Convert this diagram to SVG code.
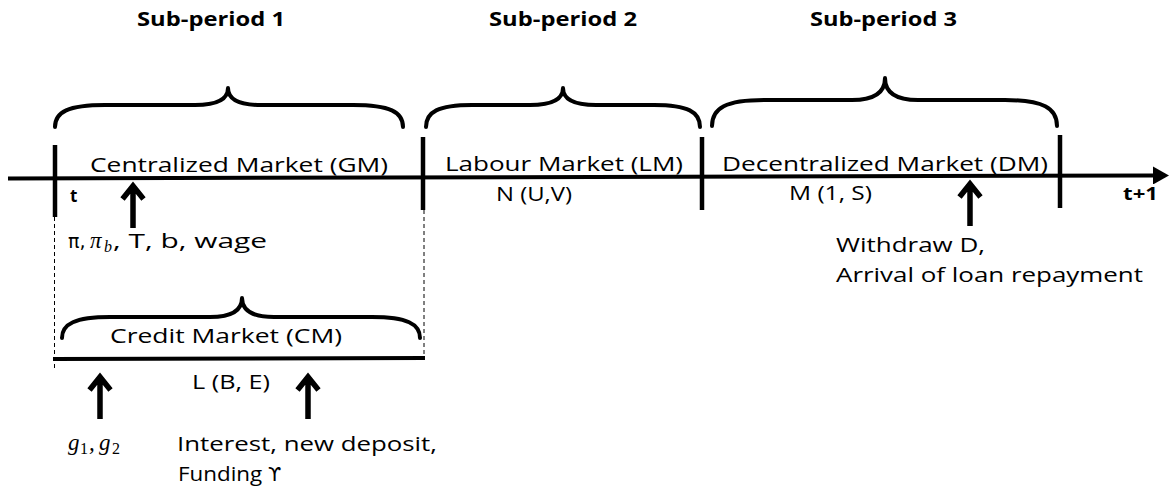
<svg xmlns="http://www.w3.org/2000/svg" xmlns:xlink="http://www.w3.org/1999/xlink" width="1171" height="490" viewBox="0 0 1171 490">
<style>
.t{font-family:"Open Sans","Liberation Sans",sans-serif;font-size:19.5px;fill:#000}
.h{font-family:"Open Sans","Liberation Sans",sans-serif;font-size:20px;font-weight:bold;fill:#000}
.b{font-family:"Open Sans","Liberation Sans",sans-serif;font-size:17px;font-weight:bold;fill:#000}
.g{font-family:"DejaVu Sans","Liberation Sans",sans-serif;font-size:19px;fill:#000}
.m{font-family:"Liberation Serif","DejaVu Serif",serif;font-style:italic;font-size:23px;fill:#000}
.ms{font-family:"Liberation Serif","DejaVu Serif",serif;font-style:italic;font-size:16px;fill:#000}
.sub{font-family:"Liberation Serif","DejaVu Serif",serif;font-size:16px;fill:#000}
.brace{fill:none;stroke:#000;stroke-width:4;stroke-linecap:round;stroke-linejoin:round}
.bar{stroke:#000;stroke-width:4.5;fill:none}
.axis{stroke:#000;stroke-width:4;fill:none}
.dash{stroke:#000;stroke-width:1;stroke-dasharray:4,3;fill:none}
.arr{stroke:#000;stroke-width:5.5;fill:none;stroke-linejoin:miter;stroke-miterlimit:10}
</style>
<defs>
<marker id="ah" markerUnits="userSpaceOnUse" markerWidth="16" markerHeight="18" refX="0" refY="9" orient="auto">
<path d="M0,0 L16,9 L0,18 z" fill="#000"/>
</marker>
<g id="uparrow"><path class="arr" d="M0,46 V6 M-10.5,17 L0,4 L10.5,17"/></g>
</defs>
<rect width="1171" height="490" fill="#fff"/>

<g id="headings">
<text class="h" x="137" y="26" textLength="148" lengthAdjust="spacingAndGlyphs">Sub-period 1</text>
<text class="h" x="489" y="26" textLength="148" lengthAdjust="spacingAndGlyphs">Sub-period 2</text>
<text class="h" x="810" y="26" textLength="147" lengthAdjust="spacingAndGlyphs">Sub-period 3</text>
</g>

<g id="braces">
<path class="brace" d="M55,127 C55,112 68,105 105,105 L195,105 C218,105 228,99 228,88 C228,99 238,105 261,105 L353,105 C390,105 403,112 403,127"/>
<path class="brace" d="M426,127 C426,112 438,105 472,105 L530,105 C553,105 563,99 563,88 C563,99 573,105 596,105 L654,105 C688,105 700,112 700,127"/>
<path class="brace" d="M712,126 C712,108 726,100 764,100 L852,100 C875,100 885,92 885,78 C885,92 895,100 918,100 L1005,100 C1043,100 1057,108 1057,126"/>
<path class="brace" d="M62,338 C62,324 75,317 110,317 L210,317 C232,317 242,310 242,298 C242,310 252,317 274,317 L372,317 C407,317 420,324 420,338"/>
</g>

<g id="timeline">
<line class="axis" x1="8" y1="178.5" x2="1153" y2="175.5" marker-end="url(#ah)"/>
<line class="bar" x1="55" y1="145" x2="55" y2="217"/>
<line class="bar" x1="423" y1="137" x2="423" y2="210"/>
<line class="bar" x1="702" y1="137" x2="702" y2="210"/>
<line class="bar" x1="1060" y1="135" x2="1060" y2="208"/>
<line class="dash" x1="54.5" y1="217" x2="54.5" y2="369"/>
<line class="dash" x1="424" y1="210" x2="424" y2="357"/>
<line class="axis" x1="53" y1="359" x2="425" y2="358"/>
</g>

<g id="gm">
<text class="t" x="90" y="172" textLength="298" lengthAdjust="spacingAndGlyphs">Centralized Market (GM)</text>
<text class="b" x="70" y="202">t</text>
</g>
<g id="lm">
<text class="t" x="445" y="171" textLength="238" lengthAdjust="spacingAndGlyphs">Labour Market (LM)</text>
<text class="t" x="496" y="201" textLength="76" lengthAdjust="spacingAndGlyphs">N (U,V)</text>
</g>
<g id="dm">
<text class="t" x="722" y="171" textLength="326" lengthAdjust="spacingAndGlyphs">Decentralized Market (DM)</text>
<text class="t" x="789" y="200" textLength="83" lengthAdjust="spacingAndGlyphs">M (1, S)</text>
<text class="b" x="1123" y="200" textLength="35" lengthAdjust="spacingAndGlyphs">t+1</text>
</g>
<g id="cm">
<text class="t" x="110" y="343" textLength="232" lengthAdjust="spacingAndGlyphs">Credit Market (CM)</text>
<text class="t" x="192" y="389" textLength="78" lengthAdjust="spacingAndGlyphs">L (B, E)</text>
</g>

<g id="gm-flows">
<text class="g" x="68" y="248">π,</text>
<text class="m" x="90" y="248">π</text>
<text class="ms" x="104" y="252">b</text>
<text class="t" x="113" y="248" textLength="154" lengthAdjust="spacingAndGlyphs">, T, b, wage</text>
</g>
<g id="dm-flows">
<text class="t" x="836" y="252" textLength="149" lengthAdjust="spacingAndGlyphs">Withdraw D,</text>
<text class="t" x="836" y="282" textLength="307" lengthAdjust="spacingAndGlyphs">Arrival of loan repayment</text>
</g>
<g id="cm-flows">
<text class="m" x="68" y="450">g</text>
<text class="sub" x="80" y="454">1</text>
<text class="m" x="89" y="450">,</text>
<text class="m" x="99" y="450">g</text>
<text class="sub" x="112" y="454">2</text>
<text class="t" x="177" y="451" textLength="260" lengthAdjust="spacingAndGlyphs">Interest, new deposit,</text>
<text class="t" x="178" y="481"><tspan textLength="90" lengthAdjust="spacingAndGlyphs">Funding </tspan><tspan class="g" font-size="20">ϒ</tspan></text>
</g>

<g id="connectors">
<use xlink:href="#uparrow" x="133" y="182"/>
<use xlink:href="#uparrow" x="970" y="180"/>
<use xlink:href="#uparrow" x="100" y="373"/>
<use xlink:href="#uparrow" x="308" y="373"/>
</g>
</svg>
